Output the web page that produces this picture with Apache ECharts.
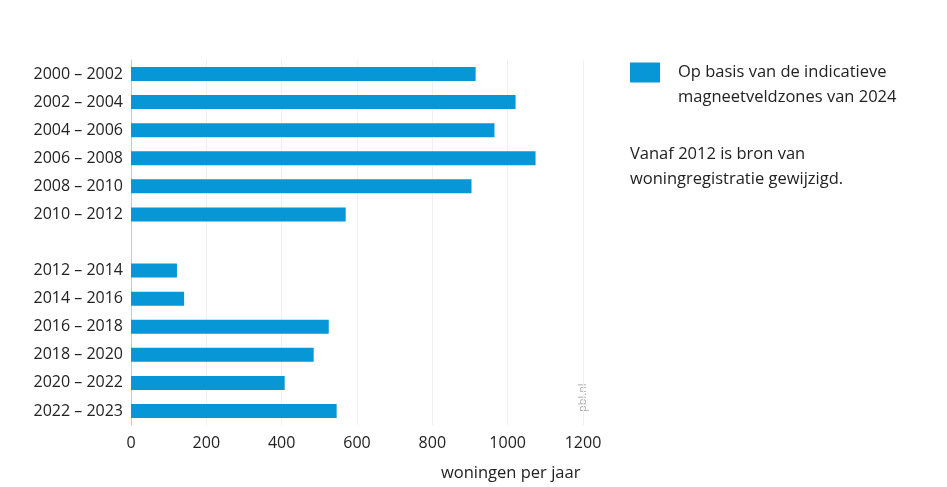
<!DOCTYPE html>
<html>
<head>
<meta charset="utf-8">
<script src="https://cdn.jsdelivr.net/npm/echarts@6/dist/echarts.min.js"></script>
<style>html,body{margin:0;padding:0;background:#fff;}#c{width:947px;height:487px;}</style>
</head>
<body>
<div id="c"></div>
<script>
const categories = ['2000 – 2002','2002 – 2004','2004 – 2006','2006 – 2008','2008 – 2010','2010 – 2012','',
  '2012 – 2014','2014 – 2016','2016 – 2018','2018 – 2020','2020 – 2022','2022 – 2023'];
const values = [915, 1021, 965, 1074, 904, 570, null, 122, 141, 525, 485, 408, 546];
const xTicks = {min: 0, max: 1200, interval: 200};
const seriesName = 'Op basis van de indicatieve\nmagneetveldzones van 2024';
const noteText = 'Vanaf 2012 is bron van\nwoningregistratie gewijzigd.';
const axisTitle = 'woningen per jaar';
const sourceText = 'pbl.nl';

const FONT = 'Open Sans';
const chart = echarts.init(document.getElementById('c'), null, {renderer: 'canvas'});
chart.setOption({
  backgroundColor: '#fff',
  animation: false,
  textStyle: {fontFamily: FONT},
  grid: {left: 131, right: 364, top: 60, bottom: 62, containLabel: false},
  legend: {
    left: 630, top: 35, orient: 'vertical', padding: 0,
    itemWidth: 30, itemHeight: 20,
    icon: 'rect',
    selectedMode: false,
    formatter: function (name) { return ' \n' + name; },
    textStyle: {fontFamily: FONT, fontSize: 16.5, color: '#222', lineHeight: 25, padding: [0, 0, 0, 13]},
    data: [seriesName]
  },
  xAxis: {
    type: 'value', min: xTicks.min, max: xTicks.max, interval: xTicks.interval,
    axisLine: {show: false}, axisTick: {show: false},
    splitLine: {show: true, lineStyle: {color: '#f0f0f0', width: 1}},
    axisLabel: {fontFamily: FONT, fontSize: 16, color: '#222', margin: 10, formatter: function (v) { return String(v); }}
  },
  yAxis: {
    type: 'category', data: categories, inverse: true,
    axisLine: {show: true, lineStyle: {color: '#c8c8c8'}},
    axisTick: {show: false},
    axisLabel: {fontFamily: FONT, fontSize: 16, color: '#222', margin: 8}
  },
  series: [{
    name: seriesName, type: 'bar', data: values, barWidth: 14,
    itemStyle: {color: '#0796d6'}
  }],
  graphic: [
    {type: 'text', left: 630, top: 142, style: {text: noteText, fontFamily: FONT, fontSize: 16.5, lineHeight: 25, fill: '#222'}},
    {type: 'text', left: 441, top: 465, style: {text: axisTitle, fontFamily: FONT, fontSize: 16.5, fill: '#222'}},
    {type: 'text', x: 577, y: 412, rotation: Math.PI / 2, style: {text: sourceText, fontFamily: FONT, fontSize: 11, fill: '#aaa'}}
  ]
});
</script>
</body>
</html>
